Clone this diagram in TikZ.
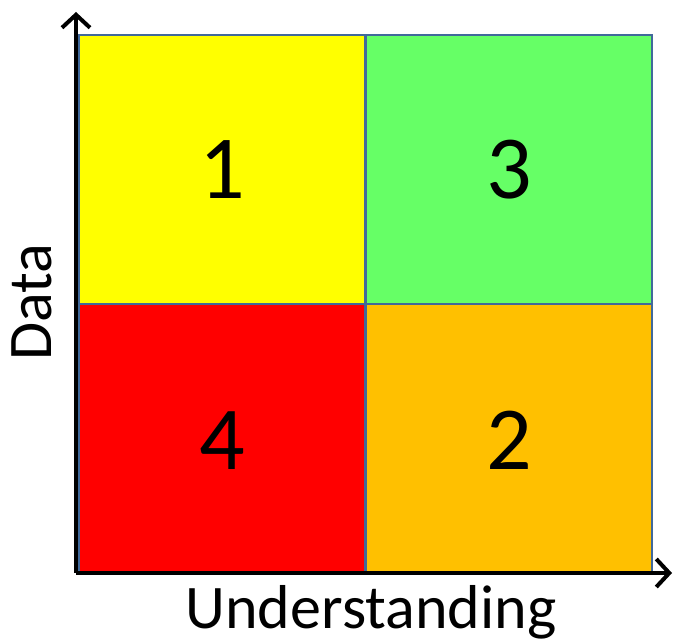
\documentclass[tikz,border=0pt]{standalone}
\usepackage{fontspec}
\setmainfont{Carlito}
\usetikzlibrary{arrows.meta}
\definecolor{cyel}{HTML}{FFFF00}
\definecolor{cgrn}{HTML}{66FF66}
\definecolor{cred}{HTML}{FF0000}
\definecolor{corg}{HTML}{FFC000}
\definecolor{cbrd}{HTML}{41699A}
\tikzset{
  cell/.style={draw=cbrd, line width=2.2pt, minimum width=286pt, minimum height=269pt, inner sep=0pt},
  digit/.style={font=\fontsize{90}{94}\selectfont, inner sep=0pt, anchor=base},
  axis/.style={line width=3.2pt, -{Straight Barb[length=13pt,width=28pt,line width=4pt]}},
  lbl/.style={font=\fontsize{62}{66}\selectfont, inner sep=0pt}
}
\begin{document}
\begin{tikzpicture}[x=1pt,y=-1pt]
\useasboundingbox (0,0) rectangle (676,639);
\node[cell, fill=cyel] (c1) at (222,169.5) {};
\node[cell, fill=cgrn] (c3) at (509,169.5) {};
\node[cell, fill=cred] (c4) at (222,438.5) {};
\node[cell, fill=corg] (c2) at (509,438.5) {};
\node[digit] (d1) at (222,198) {1};
\node[digit] (d3) at (509,198) {3};
\node[digit] (d4) at (222,469) {4};
\node[digit] (d2) at (509,469) {2};
\coordinate (o) at (76,573);
\coordinate (ytip) at (76,12);
\coordinate (xtip) at (672,573);
\draw[axis] (o) -- (ytip);
\draw[axis] (o) -- (xtip);
\node[lbl, anchor=base] (xl) at (371,628) {Understanding};
\node[lbl, anchor=base, rotate=90] (yl) at (51,302) {Data};
\end{tikzpicture}
\end{document}
